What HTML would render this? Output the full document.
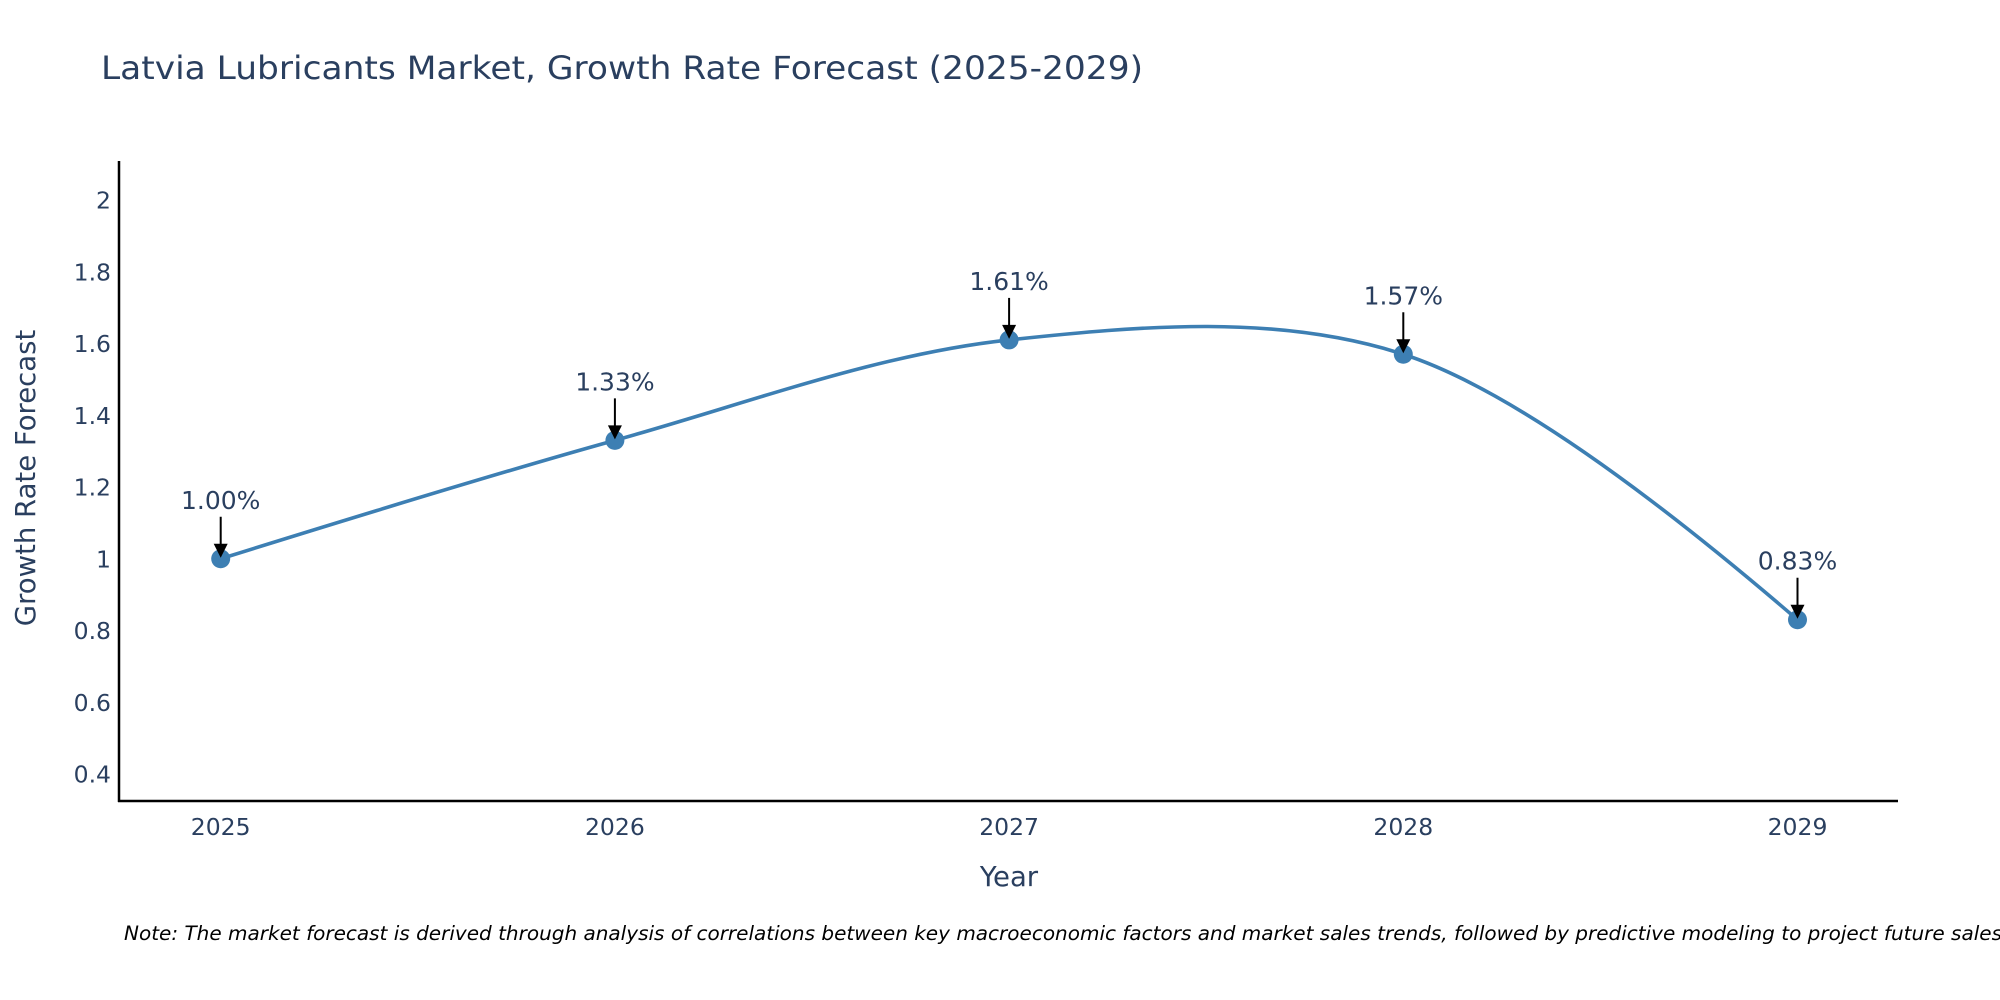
<!DOCTYPE html>
<html><head><meta charset="utf-8"><style>
html,body{margin:0;padding:0;background:#fff;}
svg{display:block;font-family:"DejaVu Sans","Liberation Sans",sans-serif;}
</style></head><body>
<svg id="chart" width="2000" height="1000" viewBox="0 0 2000 1000">
<text x="101" y="79" font-size="32" fill="#2a3f5f" textLength="1042" lengthAdjust="spacingAndGlyphs">Latvia Lubricants Market, Growth Rate Forecast (2025-2029)</text>
<g id="yticks"></g>
<g id="xticks"></g>
<line x1="119" y1="161" x2="119" y2="802" stroke="#000" stroke-width="2.5"/>
<line x1="118" y1="801" x2="1898" y2="801" stroke="#000" stroke-width="2.5"/>
<text transform="translate(35,478) rotate(-90)" text-anchor="middle" font-size="27.5" fill="#2a3f5f">Growth Rate Forecast</text>
<text x="1009" y="886" text-anchor="middle" font-size="27.5" fill="#2a3f5f">Year</text>
<g id="series"></g>
<g id="annots"></g>
<text x="124" y="940" font-size="19.5" font-style="italic" fill="#000" textLength="1878" lengthAdjust="spacingAndGlyphs">Note: The market forecast is derived through analysis of correlations between key macroeconomic factors and market sales trends, followed by predictive modeling to project future sales</text>
</svg>
<script>
const years = [2025, 2026, 2027, 2028, 2029];
const growthValues = [1.00, 1.33, 1.61, 1.57, 0.83];
const valueLabels = ["1.00%", "1.33%", "1.61%", "1.57%", "0.83%"];
const yTickValues = [0.4, 0.6, 0.8, 1, 1.2, 1.4, 1.6, 1.8, 2];
const yTickLabels = ["0.4", "0.6", "0.8", "1", "1.2", "1.4", "1.6", "1.8", "2"];

const NS = "http://www.w3.org/2000/svg";
const xScale = v => 220.7 + (v - 2025) * 394.2;
const yScale = v => 200 + (2 - v) * 358.75;
function mk(tag, attrs, parent) {
  const e = document.createElementNS(NS, tag);
  for (const k in attrs) e.setAttribute(k, attrs[k]);
  parent.appendChild(e);
  return e;
}
const yt = document.getElementById('yticks');
yTickValues.forEach((v, i) => {
  const t = mk('text', {x: 111, y: yScale(v) + 8.5, 'text-anchor': 'end', 'font-size': 23.5, fill: '#2a3f5f'}, yt);
  
  
  t.textContent = yTickLabels[i];
});
const xt = document.getElementById('xticks');
years.forEach(y => {
  const t = mk('text', {x: xScale(y), y: 835, 'text-anchor': 'middle', 'font-size': 23.5, fill: '#2a3f5f'}, xt);
  
  
  t.textContent = String(y);
});
const pts = years.map((y, i) => [xScale(y), yScale(growthValues[i])]);
function tangent(p, c, n, s) {
  const d1x = p[0]-c[0], d1y = p[1]-c[1], d2x = n[0]-c[0], d2y = n[1]-c[1];
  const d1a = Math.pow(d1x*d1x + d1y*d1y, 0.25), d2a = Math.pow(d2x*d2x + d2y*d2y, 0.25);
  const nx = (d2a*d2a*d1x - d1a*d1a*d2x) * s, ny = (d2a*d2a*d1y - d1a*d1a*d2y) * s;
  const den1 = 3*d2a*(d1a+d2a), den2 = 3*d1a*(d1a+d2a);
  return [[c[0]+nx/den1, c[1]+ny/den1], [c[0]-nx/den2, c[1]-ny/den2]];
}
const tans = [];
for (let i = 1; i < pts.length - 1; i++) tans.push(tangent(pts[i-1], pts[i], pts[i+1], 1));
let d = `M${pts[0]} Q${tans[0][0]} ${pts[1]}`;
for (let i = 2; i < pts.length - 1; i++) d += ` C${tans[i-2][1]} ${tans[i-1][0]} ${pts[i]}`;
d += ` Q${tans[tans.length-1][1]} ${pts[pts.length-1]}`;
const ser = document.getElementById('series');
const line = mk('path', {d: d, fill: 'none', stroke: '#3d7fb3', 'stroke-width': 3.6}, ser);


pts.forEach(p => {
  const c = mk('circle', {cx: p[0], cy: p[1], r: 9.5, fill: '#3d7fb3'}, ser);
  
  
});
const an = document.getElementById('annots');
pts.forEach((p, i) => {
  const l = mk('line', {x1: p[0], y1: p[1]-42, x2: p[0], y2: p[1]-12, stroke: '#000', 'stroke-width': 2}, an);
  
  
  const h = mk('polygon', {points: `${p[0]-7},${p[1]-15} ${p[0]+7},${p[1]-15} ${p[0]},${p[1]-1}`, fill: '#000'}, an);
  
  
  const t = mk('text', {x: p[0], y: p[1]-50, 'text-anchor': 'middle', 'font-size': 25, fill: '#2a3f5f'}, an);
  
  
  t.textContent = valueLabels[i];
});
</script>
</body></html>
